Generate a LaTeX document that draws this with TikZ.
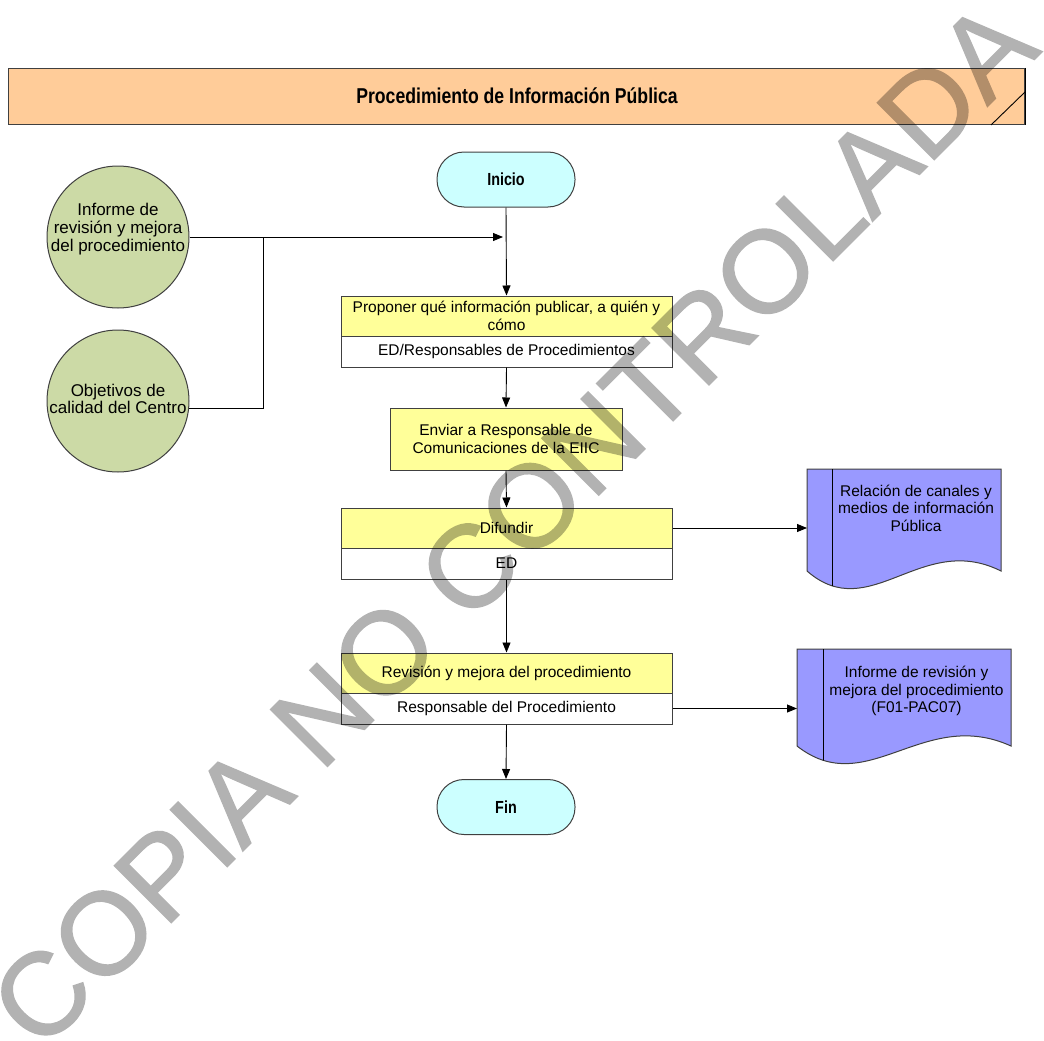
\documentclass[tikz,border=0pt]{standalone}
\usepackage{fontspec}
\setmainfont{Liberation Sans}
\newfontfamily\narrowfont[FakeStretch=0.82]{Liberation Sans}
\newfontfamily\wmfont[FakeBold=1.2]{Liberation Sans}
\usetikzlibrary{arrows.meta}
\definecolor{peach}{HTML}{FFCC99}
\definecolor{yelbox}{HTML}{FFFF99}
\definecolor{cyanbox}{HTML}{CCFFFF}
\definecolor{sage}{RGB}{204,218,166}
\definecolor{docblue}{HTML}{9999FF}
\definecolor{edge}{RGB}{64,64,64}
\begin{document}
\begin{tikzpicture}[x=1pt,y=-1pt,line width=1pt,
  arr/.style={-{Triangle[length=10pt,width=8pt]},line width=0.9pt,black},
  plain/.style={line width=0.9pt,black},
  boxfont/.style={font=\fontsize{15.5}{17.5}\selectfont},
  ybox/.style={draw=edge,fill=yelbox,inner sep=0pt,minimum width=331pt,minimum height=40pt,align=center,boxfont},
  wbox/.style={draw=edge,fill=white,inner sep=0pt,minimum width=331pt,minimum height=31pt,align=center,boxfont},
  term/.style={draw=edge,fill=cyanbox,rounded corners=27pt,minimum width=138pt,minimum height=55pt,inner sep=0pt,font=\fontsize{17.5}{18}\narrowfont\bfseries},
  inp/.style={draw=edge,fill=sage,circle,minimum size=142pt,inner sep=0pt},
  inptext/.style={align=center,inner sep=0pt,font=\fontsize{17}{17.7}\selectfont},
  docbox/.style={inner sep=0pt,anchor=north west},
  doctext/.style={align=center,inner sep=0pt,boxfont}
]
\useasboundingbox (0,0) rectangle (1044,1041);

% title bar
\node[draw=edge,fill=peach,minimum width=1016pt,minimum height=56pt,inner sep=0pt,anchor=north west] (title) at (8,68) {};
\node[inner sep=0pt,font=\fontsize{21.5}{22}\narrowfont\bfseries] (titletext) at (517,96) {Procedimiento de Información Pública};
\draw[black,line width=1pt] (title.north east) -- (title.south east);
\draw[black,line width=0.9pt] (title.south east) ++(-34,0) coordinate (tdiag) -- ++(34,-33);

% terminals
\node[term] (ini) at (506,179.5) {Inicio};
\node[term] (fin) at (506,807) {Fin};

% input circles
\node[inp] (c1) at (118,237) {};
\node[inptext] (c1t) at (118,229) {Informe de\\revisión y mejora\\del procedimiento};
\node[inp] (c2) at (118,401) {};
\node[inptext] (c2t) at (118,399) {Objetivos de\\calidad del Centro};

% process boxes
\node[ybox] (p1) at (506.5,316) {Proponer qué información publicar, a quién y\\cómo};
\node[wbox] (p1r) at (506.5,351.5) {ED/Responsables de Procedimientos};
\node[ybox,minimum width=232pt,minimum height=62pt] (p2) at (506,439) {Enviar a Responsable de\\Comunicaciones de la EIIC};
\node[ybox] (p3) at (506.5,528) {Difundir};
\node[wbox] (p3r) at (506.5,563.5) {ED};
\node[ybox] (p4) at (506.5,673) {Revisión y mejora del procedimiento};
\node[wbox] (p4r) at (506.5,708.5) {Responsable del Procedimiento};

% documents
\node[docbox,minimum width=193pt,minimum height=101pt] (d1) at (807,469) {};
\draw[draw=edge,fill=docblue] (d1.south west) -- (d1.north west) -- (d1.north east) -- (d1.south east)
   .. controls +(-80,-40) and +(63,55) .. (d1.south west) -- cycle;
\begin{scope}
\clip (d1.south west) -- (d1.north west) -- (d1.north east) -- (d1.south east)
   .. controls +(-80,-40) and +(63,55) .. (d1.south west) -- cycle;
\draw[black] ([xshift=25pt]d1.north west) -- ++(0,140);
\end{scope}
\node[doctext] (d1t) at (916,508) {Relación de canales y\\medios de información\\Pública};

\node[docbox,minimum width=213pt,minimum height=96pt] (d2) at (797,649) {};
\draw[draw=edge,fill=docblue] (d2.south west) -- (d2.north west) -- (d2.north east) -- (d2.south east)
   .. controls +(-88,-40) and +(70,55) .. (d2.south west) -- cycle;
\begin{scope}
\clip (d2.south west) -- (d2.north west) -- (d2.north east) -- (d2.south east)
   .. controls +(-88,-40) and +(70,55) .. (d2.south west) -- cycle;
\draw[black] ([xshift=26pt]d2.north west) -- ++(0,140);
\end{scope}
\node[doctext] (d2t) at (916.5,691) {Informe de revisión y\\mejora del procedimiento\\(F01-PAC07)};

% connectors
\coordinate (jn) at (263,237);
\coordinate (mrg) at (503,237);
\draw[arr] (c1.east) -- (mrg);
\draw[plain] (c2.-6.5) -| (jn);
\draw[arr] (ini.south) -- (p1.north);
\draw[arr] (p1r.south) -- (p2.north);
\draw[arr] (p2.south) -- (p3.north);
\draw[arr] (p3.east) -- (p3.east -| d1.west);
\draw[arr] (p3r.south) -- (p4.north);
\draw[arr] (p4r.east) -- (p4r.east -| d2.west);
\draw[arr] (p4r.south) -- (fin.north);

% watermark
\begin{scope}[transparency group,opacity=0.3]
\node[rotate=45,inner sep=0pt,text=black,font=\fontsize{117}{117}\wmfont] (wm) at (513,524) {COPIA NO CONTROLADA};
\end{scope}
\end{tikzpicture}
\end{document}
